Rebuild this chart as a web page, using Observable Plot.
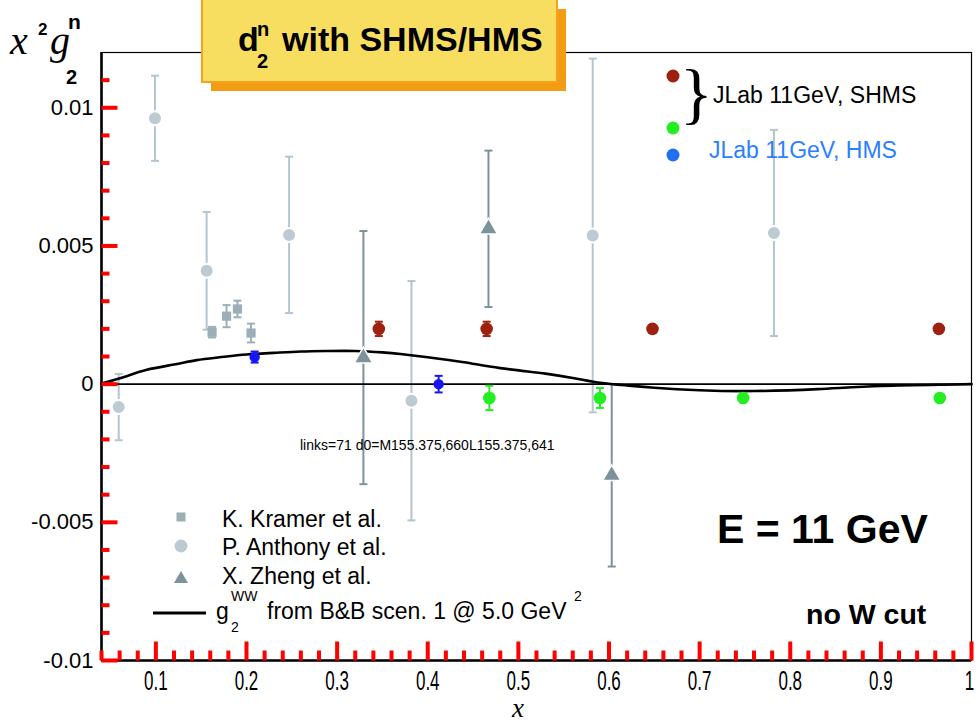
<!DOCTYPE html>
<html><head><meta charset="utf-8">
<script src="https://cdn.jsdelivr.net/npm/d3@7"></script>
<script src="https://cdn.jsdelivr.net/npm/@observablehq/plot@0.6"></script>
<style>
body{margin:0;background:#fff;}
#wrap{position:relative;width:979px;height:723px;}
</style></head><body><div id="wrap"></div>
<script>
// ---------- data ----------
const kramerX   = [0.162, 0.178, 0.190, 0.205];
const kramerY   = [0.00188, 0.00246, 0.00272, 0.00185];
const kramerErr = [0.00019, 0.00040, 0.00030, 0.00034];

const anthonyX   = [0.059, 0.099, 0.156, 0.247, 0.382, 0.582, 0.782];
const anthonyY   = [-0.00083, 0.00962, 0.00410, 0.00540, -0.00060, 0.00538, 0.00547];
const anthonyErr = [0.00120, 0.00154, 0.00213, 0.00283, 0.00433, 0.00640, 0.00373];

const zhengX   = [0.329, 0.467, 0.603];
const zhengY   = [0.00096, 0.00562, -0.00330];
const zhengErr = [0.00458, 0.00283, 0.00330];

const shmsHiX   = [0.346, 0.465, 0.648, 0.964];
const shmsHiY   = [0.00200, 0.00200, 0.00200, 0.00200];
const shmsHiErr = [0.00026, 0.00026, 0, 0];

const shmsLoX   = [0.468, 0.590, 0.748, 0.965];
const shmsLoY   = [-0.00050, -0.00050, -0.00050, -0.00050];
const shmsLoErr = [0.00044, 0.00036, 0, 0];

const hmsX   = [0.209, 0.412];
const hmsY   = [0.00098, 0.00000];
const hmsErr = [0.00020, 0.00030];

const curveX = [0.04, 0.065, 0.09, 0.12, 0.145, 0.17, 0.20, 0.23, 0.26, 0.29, 0.32, 0.35, 0.37, 0.40, 0.44, 0.48, 0.53, 0.56, 0.59, 0.62, 0.65, 0.70, 0.76, 0.83, 0.90, 0.97, 1.00];
const curveY = [0.00002, 0.00026, 0.00052, 0.00071, 0.00087, 0.00097, 0.00107, 0.00113, 0.00118, 0.00120, 0.00120, 0.00115, 0.00109, 0.00097, 0.00079, 0.00058, 0.00038, 0.00022, 0.00005, -0.00005, -0.00013, -0.00022, -0.00025, -0.00018, -0.00007, -0.00002, 0.0];

const xDomain = [0.04, 1.0];
const yDomain = [-0.01, 0.012];
const xTicks = [0.1, 0.2, 0.3, 0.4, 0.5, 0.6, 0.7, 0.8, 0.9, 1.0];
const xTickLabels = ["0.1","0.2","0.3","0.4","0.5","0.6","0.7","0.8","0.9","1"];
const yTicks = [-0.01, -0.005, 0, 0.005, 0.01];
const yTickLabels = ["-0.01","-0.005","0","0.005","0.01"];
const xMinorTicks = [0.04,0.06,0.08,0.12,0.14,0.16,0.18,0.22,0.24,0.26,0.28,0.32,0.34,0.36,0.38,0.42,0.44,0.46,0.48,0.52,0.54,0.56,0.58,0.62,0.64,0.66,0.68,0.72,0.74,0.76,0.78,0.82,0.84,0.86,0.88,0.92,0.94,0.96,0.98];
const yMinorTicks = [-0.009,-0.008,-0.007,-0.006,-0.004,-0.003,-0.002,-0.001,0.001,0.002,0.003,0.004,0.006,0.007,0.008,0.009,0.011];

// ---------- styles ----------
const C = {
  kramer: "#9cafb7", anthony: "#bccbd2", anthonyBar: "#b3c5ce", zheng: "#7d929a",
  red: "#9e2010", green: "#22ee22", hms: "#1717f2", hmsLegend: "#1f70f0", hmsText: "#2b7fff"
};
const SANS = "'Liberation Sans', Arial, Helvetica, sans-serif";
const SERIF = "'Liberation Serif', 'Times New Roman', serif";
const W = 979, H = 723, ML = 101, MR = 8, MT = 52, MB = 63;
const pxY = (yDomain[1] - yDomain[0]) / (H - MT - MB);
const pxX = (xDomain[1] - xDomain[0]) / (W - ML - MR);

const mk = (xs, ys, es) => xs.map((x, i) => ({x, y: ys[i], lo: ys[i] - es[i], hi: ys[i] + es[i], e: es[i]}));
const kramer = mk(kramerX, kramerY, kramerErr);
const anthony = mk(anthonyX, anthonyY, anthonyErr);
const zheng = mk(zhengX, zhengY, zhengErr);
const shmsHi = mk(shmsHiX, shmsHiY, shmsHiErr);
const shmsLo = mk(shmsLoX, shmsLoY, shmsLoErr);
const hms = mk(hmsX, hmsY, hmsErr);
const curve = curveX.map((x, i) => ({x, y: curveY[i]}));
const tickRows = (vals, len, axis) => vals.map(v => axis === "x"
  ? {x: v, y1: yDomain[0], y2: yDomain[0] + len * pxY}
  : {y: v, x1: xDomain[0], x2: xDomain[0] + len * pxX});

const cap = (w) => ({draw(ctx) { ctx.moveTo(-w, 0); ctx.lineTo(w, 0); }});

function errMarks(data, color, width, capW) {
  const d = data.filter(p => p.e > 0);
  return [
    Plot.ruleX(d, {x: "x", y1: "lo", y2: "hi", stroke: color, strokeWidth: width}),
    Plot.dot(d, {x: "x", y: "lo", symbol: cap(capW), r: 4, fill: "none", stroke: color, strokeWidth: width}),
    Plot.dot(d, {x: "x", y: "hi", symbol: cap(capW), r: 4, fill: "none", stroke: color, strokeWidth: width})
  ];
}

const chart = Plot.plot({
  width: W, height: H,
  marginLeft: ML, marginRight: MR, marginTop: MT, marginBottom: MB,
  x: {domain: xDomain, label: null},
  y: {domain: yDomain, label: null},
  style: {fontFamily: SANS, background: "#fff"},
  marks: [
    Plot.axisX({ticks: xTicks, tickSize: 0, tickPadding: 10, tickFormat: (d, i) => xTickLabels[i], label: null}),
    Plot.axisY({ticks: yTicks, tickSize: 0, tickPadding: 8, tickFormat: (d, i) => yTickLabels[i], label: null}),
    ...errMarks(anthony, C.anthonyBar, 2, 4),
    ...errMarks(kramer, C.kramer, 2, 4),
    ...errMarks(zheng, C.zheng, 2, 4),
    Plot.ruleY([0], {stroke: "#000", strokeWidth: 1.6}),
    Plot.line(curve, {x: "x", y: "y", curve: "natural", stroke: "#000", strokeWidth: 2.6}),
    Plot.dot(anthony, {x: "x", y: "y", r: 7, fill: C.anthony, stroke: "#fff", strokeWidth: 2}),
    Plot.dot(kramer, {x: "x", y: "y", symbol: "square", r: 5.2, fill: C.kramer}),
    Plot.dot(zheng, {x: "x", y: "y", symbol: "triangle", r: 6.8, fill: C.zheng, stroke: "#fff", strokeWidth: 1.5}),
    ...errMarks(shmsHi, C.red, 2, 4),
    ...errMarks(shmsLo, C.green, 2, 4),
    ...errMarks(hms, C.hms, 2, 4),
    Plot.dot(shmsHi, {x: "x", y: "y", r: 6.3, fill: C.red}),
    Plot.dot(shmsLo, {x: "x", y: "y", r: 6.3, fill: C.green}),
    Plot.dot(hms, {x: "x", y: "y", r: 5.2, fill: C.hms}),
    Plot.frame({stroke: "#000", strokeWidth: 1.2}),
    Plot.ruleX([xDomain[0]], {stroke: "#000", strokeWidth: 2.6}),
    Plot.ruleY([yDomain[0]], {stroke: "#000", strokeWidth: 2.6}),
    // inward ticks (test colour)
    Plot.link(tickRows(xTicks, 19, "x"), {x1: "x", x2: "x", y1: "y1", y2: "y2", stroke: "red", strokeWidth: 4}),
    Plot.link(tickRows(xMinorTicks, 10, "x"), {x1: "x", x2: "x", y1: "y1", y2: "y2", stroke: "red", strokeWidth: 4}),
    Plot.link(tickRows(yTicks, 16, "y"), {y1: "y", y2: "y", x1: "x1", x2: "x2", stroke: "red", strokeWidth: 4}),
    Plot.link(tickRows(yMinorTicks, 8, "y"), {y1: "y", y2: "y", x1: "x1", x2: "x2", stroke: "red", strokeWidth: 4})
  ]
});
document.getElementById("wrap").appendChild(chart);

const svg = d3.select(chart);
const dbg = "links=" + svg.selectAll('g[aria-label="link"] path').size() + " d0=" +
  (svg.select('g[aria-label="link"] path').node() ? svg.select('g[aria-label="link"] path').attr("d") : "none");

svg.selectAll('g[aria-label="x-axis tick label"]').attr("font-size", null);
svg.selectAll('g[aria-label="x-axis tick label"] text').each(function() {
  const t = d3.select(this).attr("font-size", 27).style("font-size", "27px").attr("font-family", SANS);
  const len = this.getComputedTextLength();
  t.attr("textLength", len * 0.63).attr("lengthAdjust", "spacingAndGlyphs");
});
svg.selectAll('g[aria-label="x-axis tick label"] text').filter((d, i, n) => n[i].textContent === "1").attr("dx", -2);
svg.selectAll('g[aria-label="y-axis tick label"] text')
  .attr("font-size", 22).style("font-size", "22px").attr("font-family", SANS);

const g = svg.append("g").attr("text-anchor", "start");
function T(x, y, s, o = {}) {
  return g.append("text").attr("x", x).attr("y", y).text(s)
    .attr("font-family", o.family || SANS).attr("font-size", o.size || 21)
    .attr("font-weight", o.weight || "normal").attr("font-style", o.style || "normal")
    .attr("fill", o.fill || "#000").attr("text-anchor", o.anchor || "start");
}
function span(t, x, y, s, o = {}) {
  return t.append("tspan").attr("x", x).attr("y", y).text(s).attr("text-anchor", "start")
    .attr("font-family", o.family || SANS).attr("font-size", o.size || 21)
    .attr("font-weight", o.weight || "normal").attr("font-style", o.style || "normal");
}
const TT = () => g.append("text").attr("fill", "#000").attr("text-anchor", "start");

T(300, 450, dbg, {size: 14});

g.append("rect").attr("x", 211).attr("y", 9).attr("width", 355).attr("height", 82).attr("fill", "#f39c12");
g.append("rect").attr("x", 202).attr("y", -2).attr("width", 355).attr("height", 84)
  .attr("fill", "#f8de60").attr("stroke", "#f5a21e").attr("stroke-width", 2);
const tt = TT();
span(tt, 238, 51, "d", {size: 34, weight: "bold"});
span(tt, 257, 36, "n", {size: 20, weight: "bold"});
span(tt, 257, 68, "2", {size: 20, weight: "bold"});
span(tt, 282, 51, "with SHMS/HMS", {size: 34, weight: "bold"});

const yl = TT();
span(yl, 10, 54, "x", {family: SERIF, size: 40, style: "italic"});
span(yl, 38, 35, "2", {size: 17, weight: "bold"});
span(yl, 50, 54, "g", {family: SERIF, size: 40, style: "italic"});
span(yl, 68, 29, "n", {size: 21, weight: "bold"});
span(yl, 66, 84, "2", {size: 20, weight: "bold"});

T(518, 717, "x", {family: SERIF, size: 27, style: "italic", anchor: "middle"});

g.append("circle").attr("cx", 673).attr("cy", 76).attr("r", 6.5).attr("fill", C.red);
g.append("circle").attr("cx", 673).attr("cy", 128).attr("r", 6.5).attr("fill", C.green);
g.append("circle").attr("cx", 673).attr("cy", 155).attr("r", 6.5).attr("fill", C.hmsLegend);
T(680, 116, "}", {family: SERIF, size: 68});
T(713, 103, "JLab 11GeV, SHMS", {size: 23});
T(709, 158, "JLab 11GeV, HMS", {size: 23, fill: C.hmsText});

g.append("rect").attr("x", 176.5).attr("y", 512.5).attr("width", 9).attr("height", 9).attr("fill", C.kramer);
g.append("circle").attr("cx", 181).attr("cy", 546).attr("r", 6.5).attr("fill", C.anthony);
g.append("path").attr("d", "M174,583L188,583L181,571Z").attr("fill", C.zheng);
g.append("line").attr("x1", 153).attr("x2", 206).attr("y1", 613).attr("y2", 613).attr("stroke", "#000").attr("stroke-width", 3);
T(222, 527, "K. Kramer et al.", {size: 23});
T(222, 555, "P. Anthony et al.", {size: 23});
T(222, 584, "X. Zheng et al.", {size: 23});
const gl = TT();
span(gl, 216, 619, "g", {size: 23});
span(gl, 231, 601, "WW", {size: 14});
span(gl, 231, 632, "2", {size: 14});
span(gl, 267, 619, "from B&B scen. 1 @ 5.0 GeV", {size: 23});
span(gl, 574, 601, "2", {size: 14});

T(717, 543, "E = 11 GeV", {size: 41, weight: "bold"});
T(806, 624, "no W cut", {size: 28.5, weight: "bold"});
</script>
</body></html>
